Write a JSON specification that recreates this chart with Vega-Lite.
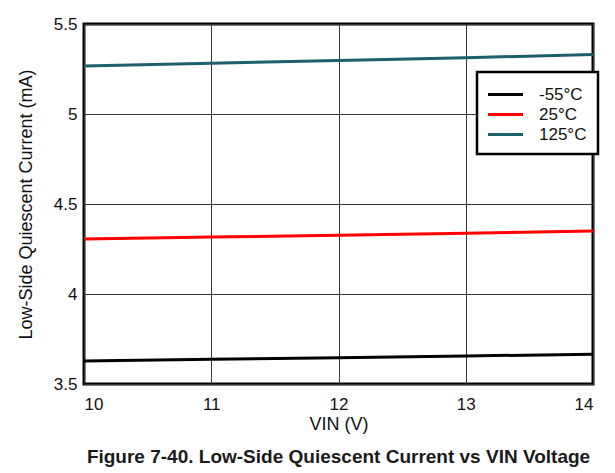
{
  "$schema": "https://vega.github.io/schema/vega-lite/v6.json",
  "width": 509,
  "height": 360,
  "autosize": {"type": "none"},
  "padding": {"left": 84, "top": 24, "right": 22, "bottom": 89},
  "background": "white",
  "title": {
    "text": "Figure 7-40. Low-Side Quiescent Current vs VIN Voltage",
    "orient": "bottom",
    "anchor": "middle",
    "font": "Liberation Sans",
    "fontSize": 19,
    "fontWeight": "bold",
    "color": "#1a1a1a",
    "offset": 15
  },
  "data": {
    "values": [
      {"vin": 10, "current": 3.628, "temp": "-55°C"},
      {"vin": 11, "current": 3.637, "temp": "-55°C"},
      {"vin": 12, "current": 3.646, "temp": "-55°C"},
      {"vin": 13, "current": 3.656, "temp": "-55°C"},
      {"vin": 14, "current": 3.665, "temp": "-55°C"},
      {"vin": 10, "current": 4.306, "temp": "25°C"},
      {"vin": 11, "current": 4.316, "temp": "25°C"},
      {"vin": 12, "current": 4.327, "temp": "25°C"},
      {"vin": 13, "current": 4.338, "temp": "25°C"},
      {"vin": 14, "current": 4.35, "temp": "25°C"},
      {"vin": 10, "current": 5.267, "temp": "125°C"},
      {"vin": 11, "current": 5.282, "temp": "125°C"},
      {"vin": 12, "current": 5.297, "temp": "125°C"},
      {"vin": 13, "current": 5.313, "temp": "125°C"},
      {"vin": 14, "current": 5.33, "temp": "125°C"}
    ]
  },
  "mark": {"type": "line", "strokeWidth": 3, "clip": true},
  "encoding": {
    "x": {
      "field": "vin",
      "type": "quantitative",
      "title": "VIN (V)",
      "scale": {"domain": [10, 14], "nice": false, "zero": false},
      "axis": {"values": [10, 11, 12, 13, 14], "format": "d", "labelPadding": 12, "titlePadding": 3}
    },
    "y": {
      "field": "current",
      "type": "quantitative",
      "title": "Low-Side Quiescent Current (mA)",
      "scale": {"domain": [3.5, 5.5], "nice": false, "zero": false},
      "axis": {"values": [3.5, 4, 4.5, 5, 5.5], "format": "~g", "labelPadding": 7, "titlePadding": 18}
    },
    "color": {
      "field": "temp",
      "type": "nominal",
      "title": null,
      "sort": ["-55°C", "25°C", "125°C"],
      "scale": {"domain": ["-55°C", "25°C", "125°C"], "range": ["#000000", "#ff0000", "#1f5f6d"]},
      "legend": {
        "orient": "none",
        "legendX": 393,
        "legendY": 48,
        "symbolType": "M-1.75,0H1.75",
        "symbolSize": 400,
        "symbolStrokeWidth": 3,
        "symbolOffset": 6,
        "labelFontSize": 17,
        "labelFont": "Liberation Sans",
        "labelColor": "#111",
        "labelOffset": 22,
        "rowPadding": -2,
        "padding": 11,
        "strokeColor": "black",
        "fillColor": "white",
        "encode": {"legend": {"update": {"strokeWidth": {"value": 2.5}}}}
      }
    }
  },
  "config": {
    "view": {"stroke": "black", "strokeWidth": 3},
    "axis": {
      "domain": false,
      "ticks": false,
      "grid": true,
      "gridColor": "#333",
      "gridWidth": 1,
      "gridOpacity": 1,
      "labelFont": "Liberation Sans",
      "labelFontSize": 17,
      "labelColor": "#111",
      "titleFont": "Liberation Sans",
      "titleFontSize": 18,
      "titleFontWeight": "normal",
      "titleColor": "#111"
    }
  }
}
